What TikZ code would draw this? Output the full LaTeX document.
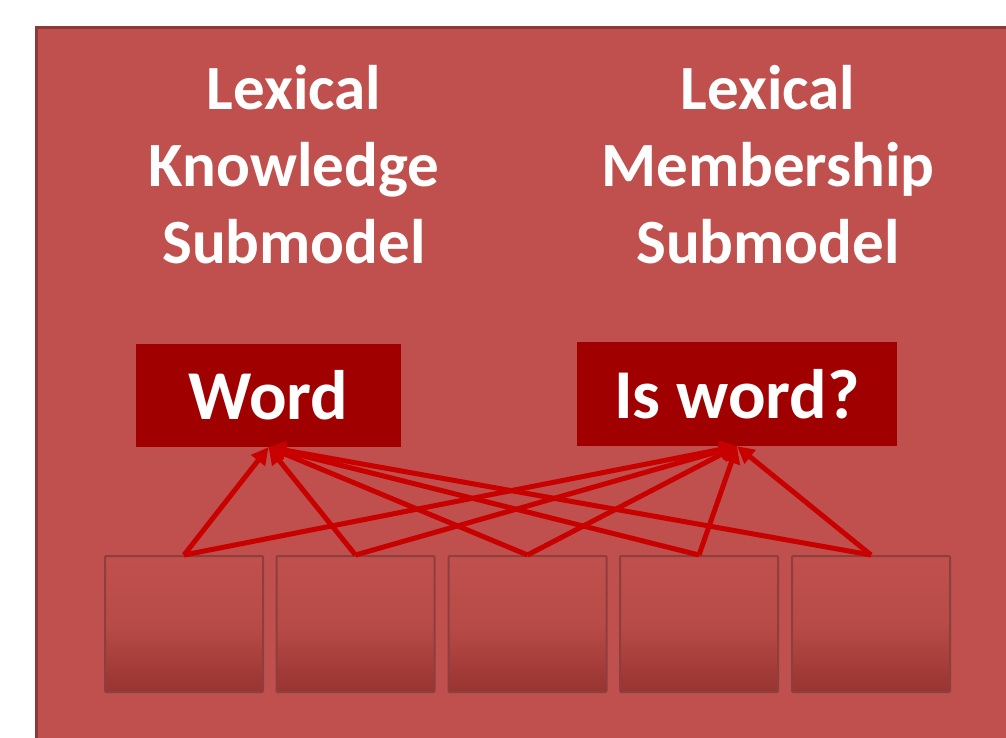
\documentclass[tikz,border=0pt]{standalone}
\usepackage{fontspec}
\setmainfont{Carlito}
\usetikzlibrary{arrows.meta}
\definecolor{bgred}{HTML}{C0504D}
\definecolor{bgborder}{HTML}{8C3A38}
\definecolor{boxred}{HTML}{A00000}
\definecolor{arrred}{HTML}{C80000}
\definecolor{cellbot}{HTML}{983431}
\definecolor{cellmid}{HTML}{B84B47}
\definecolor{cellborder}{HTML}{8E3E3C}
\tikzset{
  title/.style={text=white, font=\fontsize{63}{77}\selectfont\bfseries, align=center, inner sep=0pt},
  outbox/.style={fill=boxred, text=white, font=\fontsize{70}{80}\selectfont\bfseries, inner sep=0pt},
  cell/.style={draw=cellborder, line width=2pt, rounded corners=1pt, top color=bgred, bottom color=cellbot, middle color=cellmid, minimum width=158pt, minimum height=136pt, inner sep=0pt},
  conn/.style={draw=arrred, line width=5pt, -{Triangle[length=17pt,width=17pt]}}
}
\begin{document}
\begin{tikzpicture}[x=1pt,y=-1pt]
\useasboundingbox (0,0) rectangle (1006,737);
\fill[white] (0,0) rectangle (1006,737);
\draw[bgborder, line width=3pt, fill=bgred] (36,27) rectangle (1015,750);
\node[title] (t1) at (294,165) {Lexical\\Knowledge\\Submodel};
\node[title] (t2) at (768,165) {Lexical\\Membership\\Submodel};
\node[outbox, minimum width=265pt, minimum height=103pt] (word) at (268.5,395.5) {Word};
\node[outbox, minimum width=320pt, minimum height=104pt] (isword) at (737,394) {Is word?};
\node[cell] (c1) at (184,624) {};
\node[cell] (c2) at (355.5,624) {};
\node[cell] (c3) at (527.5,624) {};
\node[cell] (c4) at (699,624) {};
\node[cell] (c5) at (871,624) {};
\foreach \c in {c1,c2,c3,c4,c5}{
  \draw[conn] (\c.north) -- (word.south);
  \draw[conn] (\c.north) -- (isword.south);
}
\end{tikzpicture}
\end{document}
